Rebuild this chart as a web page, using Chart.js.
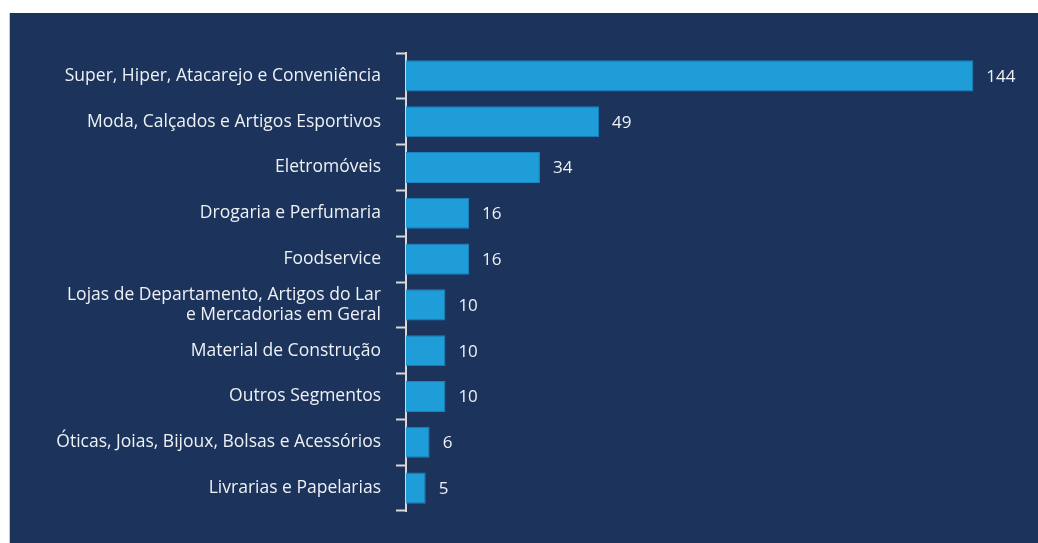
<!DOCTYPE html>
<html lang="pt">
<head>
    <meta charset="UTF-8">
    <title>Segmentos</title>
    <script src="https://cdn.jsdelivr.net/npm/chart.js"></script>
    <style>
        html, body { margin: 0; padding: 0; background: #ffffff; }
        .panel {
            position: absolute;
            left: 9px;
            top: 13px;
            width: 1029px;
            height: 530px;
            background: #1c335b;
            border-left: 1px solid #c8c8c8;
        }
    </style>
</head>
<body>
    <div class="panel">
        <canvas id="chart" width="1029" height="530"></canvas>
    </div>

    <script>
        const categories = [
            'Super, Hiper, Atacarejo e Conveniência',
            'Moda, Calçados e Artigos Esportivos',
            'Eletromóveis',
            'Drogaria e Perfumaria',
            'Foodservice',
            ['Lojas de Departamento, Artigos do Lar', 'e Mercadorias em Geral'],
            'Material de Construção',
            'Outros Segmentos',
            'Óticas, Joias, Bijoux, Bolsas e Acessórios',
            'Livrarias e Papelarias'
        ];
        const values = [144, 49, 34, 16, 16, 10, 10, 10, 6, 5];

        const textColor = '#eef1f5';
        const axisColor = '#d8d8d8';
        const fontFamily = '"Open Sans", Roboto, sans-serif';

        // draws the numbers right after each bar
        const valueLabels = {
            id: 'valueLabels',
            afterDatasetsDraw(chart) {
                const ctx = chart.ctx;
                const meta = chart.getDatasetMeta(0);
                ctx.save();
                ctx.fillStyle = textColor;
                ctx.font = '17px ' + fontFamily;
                ctx.textAlign = 'left';
                ctx.textBaseline = 'middle';
                meta.data.forEach((bar, i) => {
                    ctx.fillText(values[i], bar.x + 13, bar.y + 1);
                });
                ctx.restore();
            }
        };

        new Chart(document.getElementById('chart'), {
            type: 'bar',
            data: {
                labels: categories,
                datasets: [{
                    data: values,
                    backgroundColor: '#1e9dd9',
                    borderColor: '#1984bf',
                    borderWidth: 1,
                    categoryPercentage: 1,
                    barPercentage: 0.68
                }]
            },
            options: {
                indexAxis: 'y',
                responsive: false,
                animation: false,
                layout: {
                    padding: { top: 40, bottom: 32, right: 42, left: 0 }
                },
                plugins: {
                    legend: { display: false },
                    tooltip: { enabled: false }
                },
                scales: {
                    x: {
                        display: false,
                        min: 0,
                        max: 150
                    },
                    y: {
                        afterFit(scale) { scale.width = 396; },
                        grid: {
                            display: true,
                            drawOnChartArea: false,
                            drawTicks: true,
                            tickLength: 10,
                            tickWidth: 2,
                            color: axisColor,
                            offset: true
                        },
                        border: { display: true, color: axisColor, width: 2 },
                        ticks: {
                            color: textColor,
                            padding: 15,
                            autoSkip: false,
                            font: { size: 17.5, family: fontFamily, lineHeight: 1.12 }
                        }
                    }
                }
            },
            plugins: [valueLabels]
        });
    </script>
</body>
</html>
